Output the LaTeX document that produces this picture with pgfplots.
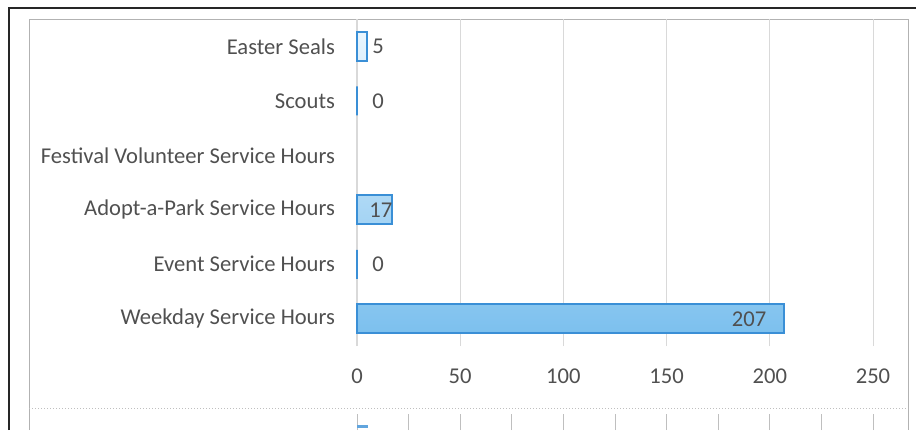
\documentclass[border=0pt]{standalone}
\usepackage{pgfplots}
\pgfplotsset{compat=1.18}
\usepackage{fontspec}
\setmainfont{Carlito}
\definecolor{txt}{HTML}{505050}
\definecolor{gridc}{HTML}{D9D9D9}
\definecolor{barline}{HTML}{3A8FD6}
\definecolor{bartop}{HTML}{EAF6FE}
\definecolor{barbot}{HTML}{7CC0EE}
\begin{document}
\begin{tikzpicture}[x=0.5pt,y=0.5pt]
\path[use as bounding box] (0,0) rectangle (916,430);
% frames
\draw[line width=1.1pt,black!85] (9,0) -- (9,422) -- (916,422);
\draw[line width=0.5pt,black!30] (29,0) -- (29,411) -- (908,411) -- (908,0);
\draw[line width=0.5pt,black!25,densely dotted] (29,22) -- (908,22);
\foreach \k in {0,...,10} {\draw[line width=0.4pt,black!25] ({357+51.6*\k},0) -- ({357+51.6*\k},16);}
\fill[barline!80] (357,2) rectangle (368,5);
\begin{axis}[
  at={(178.5pt,42pt)}, anchor=south west,
  scale only axis, width=258pt, height=163.5pt,
  xmin=0, xmax=250, ymin=-0.5, ymax=5.5,
  xtick={0,50,...,250},
  ytick={0,...,5},
  yticklabels={Weekday Service Hours,Event Service Hours,Adopt-a-Park Service Hours,Festival Volunteer Service Hours,Scouts,Easter Seals},
  xmajorgrids, ymajorgrids=false, major grid style={gridc, line width=0.5pt},
  axis x line*=bottom, axis y line*=left,
  x axis line style={draw=none}, y axis line style={gridc, line width=0.6pt},
  tick style={draw=none},
  ticklabel style={font=\fontsize{11.3}{13}\selectfont, text=txt},
  /pgf/number format/assume math mode=true,
  xticklabel style={yshift=-8pt},
  yticklabel style={xshift=-7.5pt},
  clip=false,
]
\addplot[xbar, bar width=14.5pt, draw=barline, line width=0.9pt, fill=none, /tikz/shade, /tikz/shading=axis, /tikz/top color=bartop, /tikz/bottom color=barbot] coordinates {(207,0) (0,1) (17,2) (0,4) (5,5)};
\addplot[draw=none, mark=none, nodes near coords, point meta=explicit symbolic,
  nodes near coords style={font=\fontsize{11.3}{13}\selectfont, text=txt, anchor=center}]
  coordinates {(190,0) [207] (10.2,1) [0] (11.6,2) [17] (10.2,4) [0] (10.2,5) [5]};
\end{axis}
\end{tikzpicture}
\end{document}
